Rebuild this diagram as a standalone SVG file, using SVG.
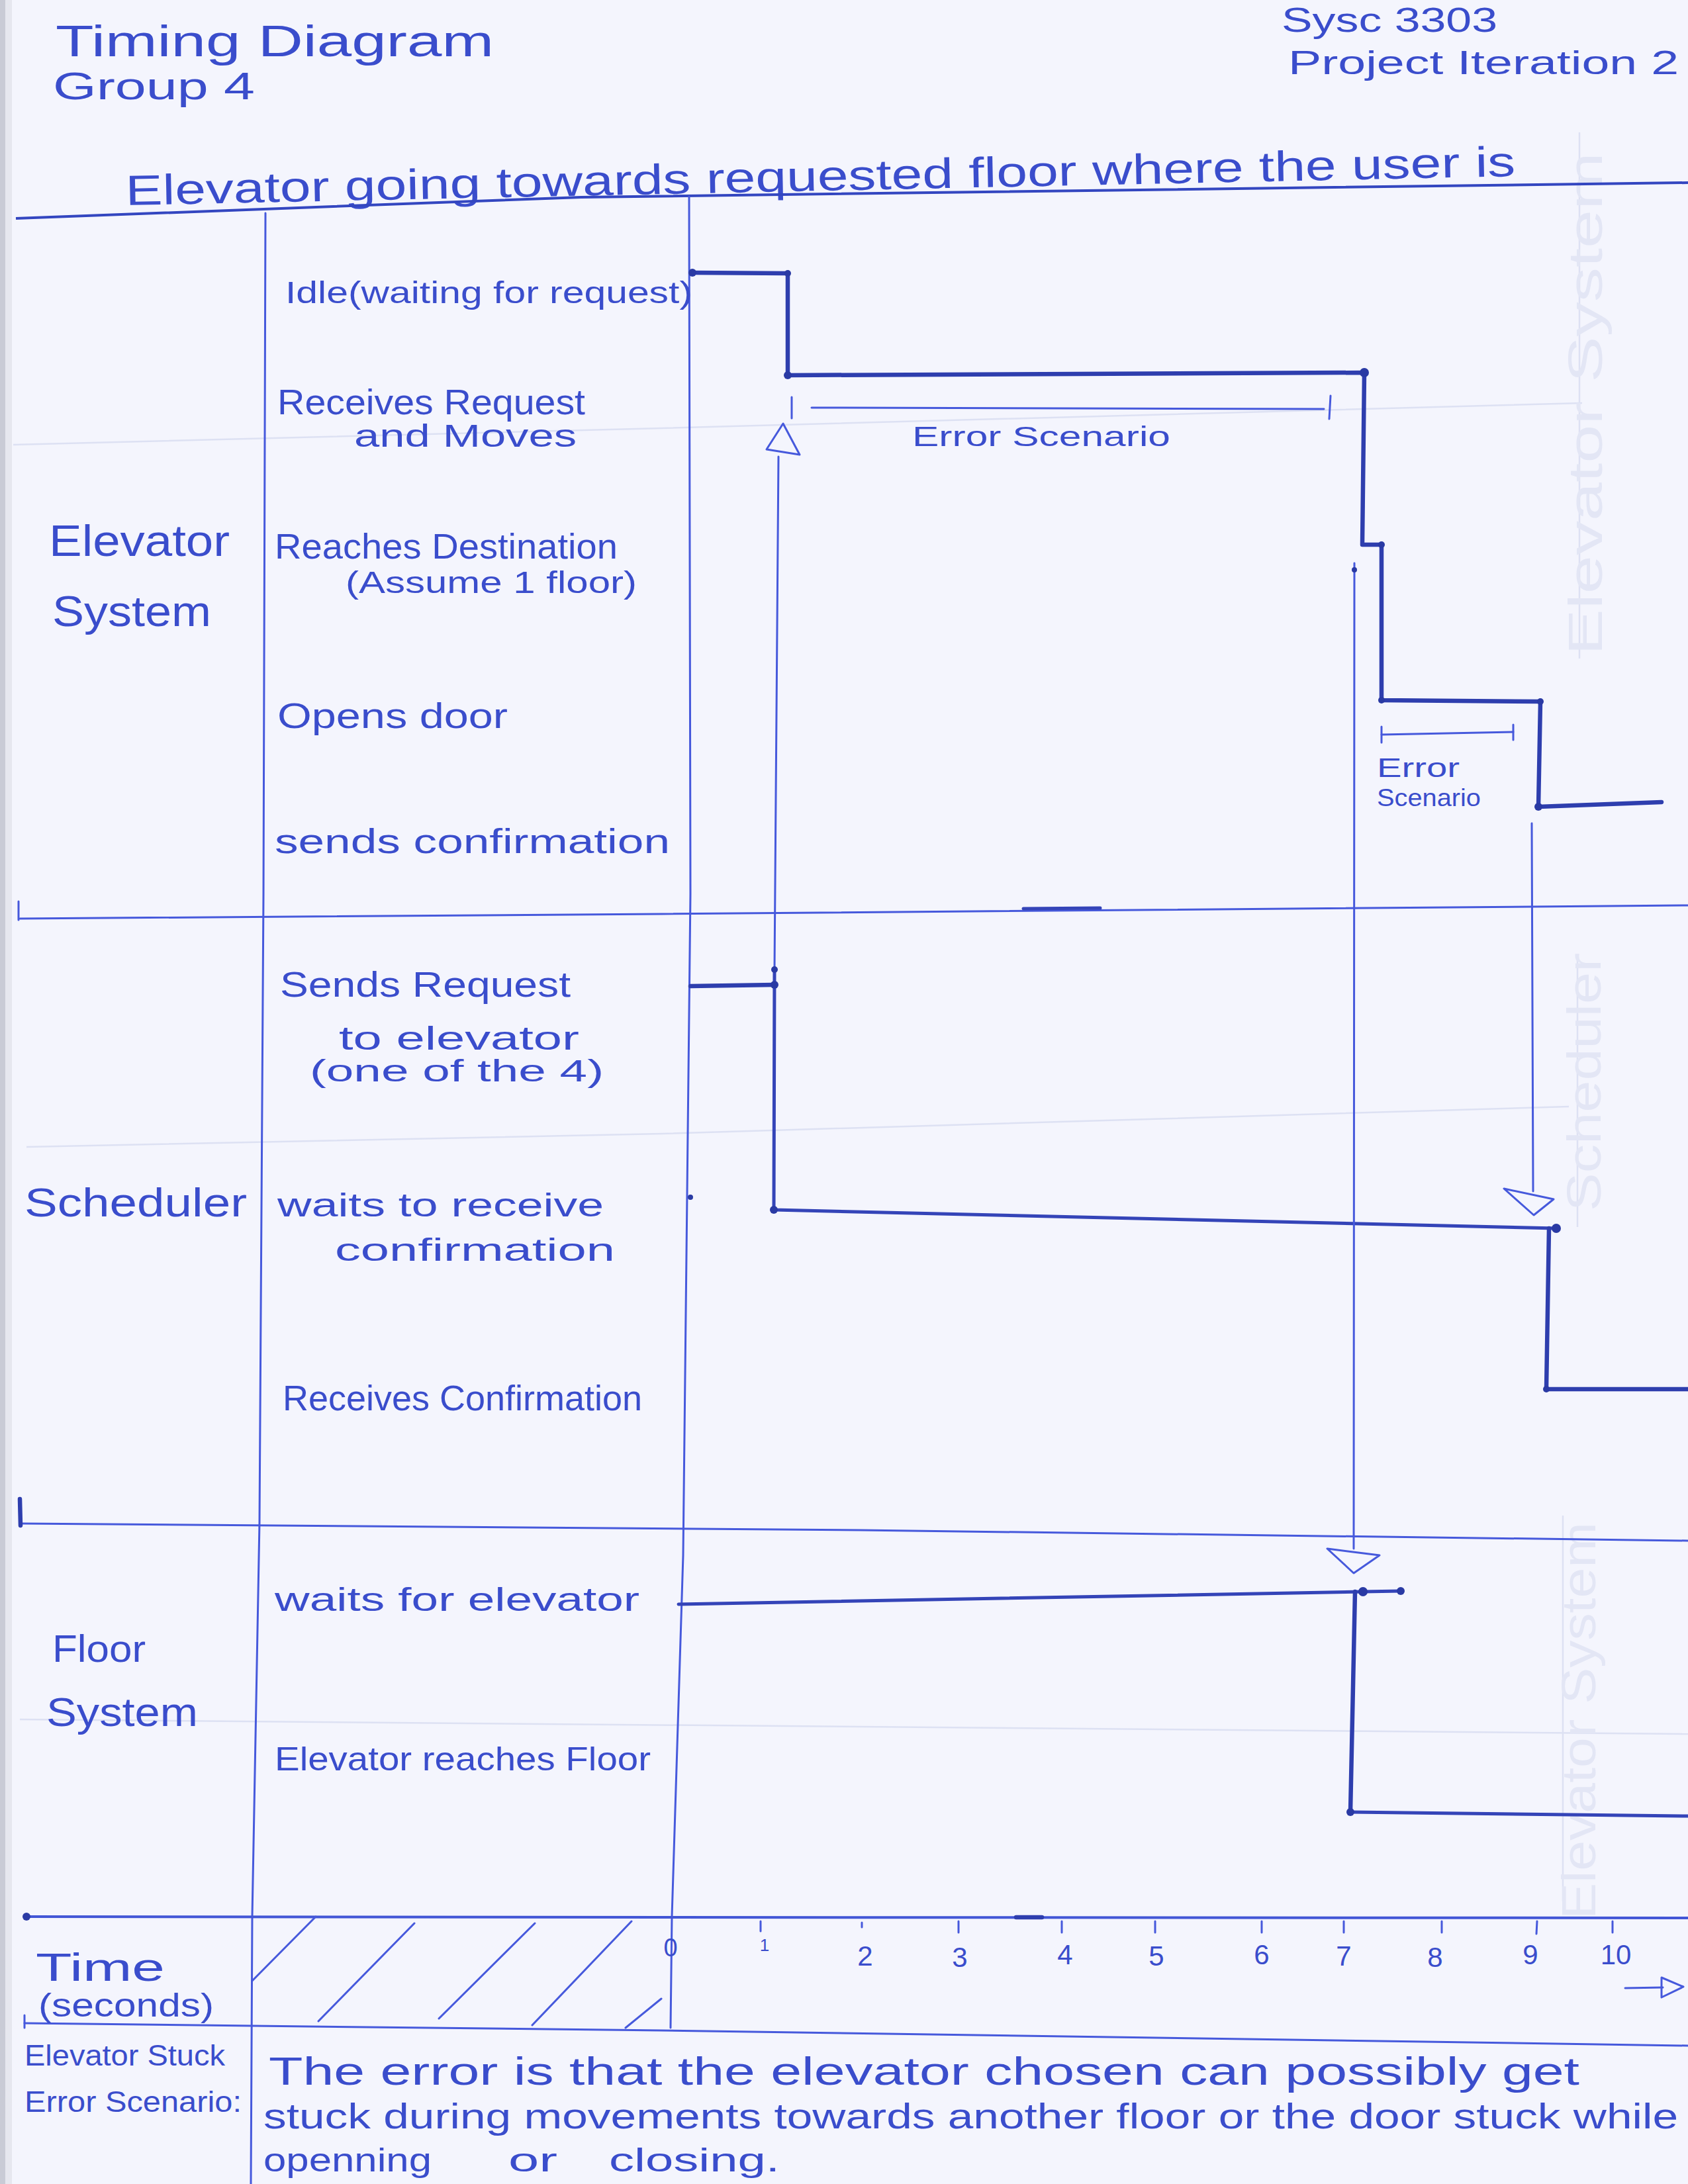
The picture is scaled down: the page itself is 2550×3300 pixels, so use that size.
<svg xmlns="http://www.w3.org/2000/svg" width="2550" height="3300" viewBox="0 0 2550 3300">
<defs>
<style>
.t{font-family:"Liberation Sans","Arial",sans-serif;fill:#3a4dcc;}
.thin{fill:none;stroke:#4659dc;stroke-width:3;stroke-linecap:round;stroke-linejoin:round;}
.rule{fill:none;stroke:#4256d6;stroke-width:4;stroke-linecap:round;stroke-linejoin:round;}
.thick{fill:none;stroke:#2e3eae;stroke-width:6.5;stroke-linecap:round;stroke-linejoin:round;}
.med{fill:none;stroke:#3444b8;stroke-width:5;stroke-linecap:round;stroke-linejoin:round;}
.head{fill:none;stroke:#3346c0;stroke-width:4;stroke-linejoin:round;}
.dot{fill:#2a3aa4;}
.faint{fill:none;stroke:#dde1f3;stroke-width:2.5;}
.ghost{font-family:"Liberation Sans",sans-serif;fill:#e3e6f5;}
</style>
</defs>
<rect x="0" y="0" width="2550" height="3300" fill="#f4f5fd"/>
<rect x="0" y="0" width="8" height="3300" fill="#c9cbd6"/>
<rect x="8" y="0" width="10" height="3300" fill="#e6e7ef"/>

<!-- faint paper guide lines and show-through -->
<g id="paper-ghosts">
<polyline class="faint" points="20,672 1000,647 2390,609"/>
<polyline class="faint" points="40,1733 1000,1713 2370,1672"/>
<polyline class="faint" points="30,2598 2550,2620"/>
<line class="faint" x1="2386" y1="200" x2="2386" y2="995"/>
<line class="faint" x1="2383" y1="1446" x2="2383" y2="1854"/>
<line class="faint" x1="2361" y1="2290" x2="2361" y2="2873"/>
<text class="ghost" transform="translate(2420,990) rotate(-90)" font-size="72" textLength="760" lengthAdjust="spacingAndGlyphs">Elevator System</text>
<text class="ghost" transform="translate(2418,1830) rotate(-90)" font-size="72" textLength="390" lengthAdjust="spacingAndGlyphs">Scheduler</text>
<text class="ghost" transform="translate(2410,2900) rotate(-90)" font-size="72" textLength="600" lengthAdjust="spacingAndGlyphs">Elevator System</text>
</g>

<!-- title block -->
<g id="title">
<text class="t" x="84" y="85" font-size="66" textLength="662" lengthAdjust="spacingAndGlyphs">Timing Diagram</text>
<text class="t" x="80" y="150" font-size="58" textLength="305" lengthAdjust="spacingAndGlyphs">Group 4</text>
<text class="t" x="1936" y="48" font-size="52" textLength="326" lengthAdjust="spacingAndGlyphs">Sysc 3303</text>
<text class="t" x="1946" y="112" font-size="50" textLength="590" lengthAdjust="spacingAndGlyphs">Project Iteration 2</text>
<text class="t" x="190" y="310" font-size="64" textLength="2100" lengthAdjust="spacingAndGlyphs" transform="rotate(-1.2 190 310)">Elevator going towards requested floor where the user is</text>
</g>

<!-- table frame -->
<g id="frame">
<polyline class="head" points="24,330 878,298 2550,276"/>
<polyline class="thin" points="401,322 398,1350 392,2300 381,2896 379,3300"/>
<polyline class="thin" points="1041,297 1043,1350 1032,2350 1015,2896 1013,3064"/>
<polyline class="thin" points="30,1388 1000,1381 2550,1368"/>
<line class="thin" x1="28" y1="1362" x2="28" y2="1390"/>
<line class="med" x1="1546" y1="1373" x2="1662" y2="1372"/>
<polyline class="thin" points="30,2302 1300,2312 2550,2328"/>
<line class="thick" x1="30" y1="2265" x2="31" y2="2305"/>
<polyline class="rule" points="40,2896 1000,2897 2550,2898"/>
<circle class="dot" cx="40" cy="2896" r="6"/>
<line class="thick" x1="1535" y1="2897" x2="1574" y2="2897"/>
<polyline class="thin" points="37,3057 1000,3068 2550,3091"/>
<line class="thin" x1="37" y1="3045" x2="37" y2="3064"/>
</g>

<!-- lane: Elevator System -->
<g id="lane-elevator">
<text class="t" x="74" y="840" font-size="66" textLength="273" lengthAdjust="spacingAndGlyphs">Elevator</text>
<text class="t" x="79" y="946" font-size="64" textLength="240" lengthAdjust="spacingAndGlyphs">System</text>
<text class="t" x="431" y="458" font-size="46" textLength="615" lengthAdjust="spacingAndGlyphs">Idle(waiting for request)</text>
<text class="t" x="419" y="626" font-size="54" textLength="465" lengthAdjust="spacingAndGlyphs">Receives Request</text>
<text class="t" x="535" y="675" font-size="48" textLength="336" lengthAdjust="spacingAndGlyphs">and Moves</text>
<text class="t" x="415" y="844" font-size="54" textLength="518" lengthAdjust="spacingAndGlyphs">Reaches Destination</text>
<text class="t" x="522" y="896" font-size="46" textLength="440" lengthAdjust="spacingAndGlyphs">(Assume 1 floor)</text>
<text class="t" x="419" y="1100" font-size="54" textLength="348" lengthAdjust="spacingAndGlyphs">Opens door</text>
<text class="t" x="415" y="1289" font-size="52" textLength="597" lengthAdjust="spacingAndGlyphs">sends confirmation</text>
</g>

<!-- lane: Scheduler -->
<g id="lane-scheduler">
<text class="t" x="37" y="1838" font-size="62" textLength="336" lengthAdjust="spacingAndGlyphs">Scheduler</text>
<text class="t" x="423" y="1506" font-size="54" textLength="439" lengthAdjust="spacingAndGlyphs">Sends Request</text>
<text class="t" x="512" y="1586" font-size="50" textLength="363" lengthAdjust="spacingAndGlyphs">to elevator</text>
<text class="t" x="468" y="1634" font-size="46" textLength="444" lengthAdjust="spacingAndGlyphs">(one of the 4)</text>
<text class="t" x="419" y="1838" font-size="50" textLength="493" lengthAdjust="spacingAndGlyphs">waits to receive</text>
<text class="t" x="506" y="1905" font-size="48" textLength="423" lengthAdjust="spacingAndGlyphs">confirmation</text>
<text class="t" x="427" y="2131" font-size="54" textLength="543" lengthAdjust="spacingAndGlyphs">Receives Confirmation</text>
</g>

<!-- lane: Floor System -->
<g id="lane-floor">
<text class="t" x="79" y="2511" font-size="58" textLength="141" lengthAdjust="spacingAndGlyphs">Floor</text>
<text class="t" x="70" y="2608" font-size="62" textLength="229" lengthAdjust="spacingAndGlyphs">System</text>
<text class="t" x="415" y="2434" font-size="50" textLength="551" lengthAdjust="spacingAndGlyphs">waits for elevator</text>
<text class="t" x="415" y="2675" font-size="50" textLength="568" lengthAdjust="spacingAndGlyphs">Elevator reaches Floor</text>
</g>

<!-- time axis -->
<g id="time-axis">
<text class="t" x="54" y="2993" font-size="60" textLength="195" lengthAdjust="spacingAndGlyphs">Time</text>
<text class="t" x="58" y="3047" font-size="50" textLength="265" lengthAdjust="spacingAndGlyphs">(seconds)</text>
<g class="thin">
<line x1="381" y1="2993" x2="477" y2="2896"/>
<line x1="481" y1="3054" x2="626" y2="2906"/>
<line x1="663" y1="3050" x2="808" y2="2906"/>
<line x1="804" y1="3060" x2="954" y2="2903"/>
<line x1="945" y1="3064" x2="999" y2="3020"/>
<line x1="1149" y1="2903" x2="1149" y2="2918"/>
<line x1="1302" y1="2905" x2="1302" y2="2912"/>
<line x1="1448" y1="2903" x2="1448" y2="2920"/>
<line x1="1604" y1="2903" x2="1604" y2="2920"/>
<line x1="1745" y1="2903" x2="1745" y2="2920"/>
<line x1="1906" y1="2903" x2="1906" y2="2920"/>
<line x1="2030" y1="2903" x2="2030" y2="2920"/>
<line x1="2178" y1="2903" x2="2178" y2="2920"/>
<line x1="2322" y1="2903" x2="2321" y2="2922"/>
<line x1="2436" y1="2903" x2="2436" y2="2920"/>
<line x1="2455" y1="3004" x2="2512" y2="3003"/>
<polygon points="2510,2988 2543,3002 2510,3018"/>
</g>
<g class="t" font-size="42" text-anchor="middle">
<text x="1013" y="2956" font-size="38">0</text>
<text x="1155" y="2948" font-size="26">1</text>
<text x="1307" y="2970">2</text>
<text x="1450" y="2972">3</text>
<text x="1609" y="2968">4</text>
<text x="1747" y="2970">5</text>
<text x="1906" y="2968">6</text>
<text x="2030" y="2970">7</text>
<text x="2168" y="2972">8</text>
<text x="2312" y="2968">9</text>
<text x="2441" y="2968">10</text>
</g>
</g>

<!-- note -->
<g id="note">
<text class="t" x="37" y="3121" font-size="44" textLength="303" lengthAdjust="spacingAndGlyphs">Elevator Stuck</text>
<text class="t" x="37" y="3191" font-size="44" textLength="328" lengthAdjust="spacingAndGlyphs">Error Scenario:</text>
<text class="t" x="406" y="3150" font-size="60" textLength="1980" lengthAdjust="spacingAndGlyphs">The error is that the elevator chosen can possibly get</text>
<text class="t" x="398" y="3216" font-size="54" textLength="2137" lengthAdjust="spacingAndGlyphs">stuck during movements towards another floor or the door stuck while</text>
<text class="t" y="3281" font-size="50"><tspan x="398" textLength="254" lengthAdjust="spacingAndGlyphs">openning</tspan> <tspan x="768" textLength="74" lengthAdjust="spacingAndGlyphs">or</tspan> <tspan x="920" textLength="258" lengthAdjust="spacingAndGlyphs">closing.</tspan></text>
</g>

<!-- connectors: state traces, signals, error brackets -->
<g id="connectors">
<polyline class="thick" points="1046,412 1190,413 1190,567 2061,563 2058,823 2087,823 2087,1058 2327,1060 2324,1219 2510,1212"/>
<polyline class="thick" points="1043,1490 1170,1488"/>
<polyline class="thin" points="1176,690 1170,1465"/>
<polyline class="med" points="1170,1465 1169,1828 2351,1856"/>
<polyline class="thick" points="2340,1856 2336,2099 2550,2099"/>
<polyline class="med" points="1025,2424 2059,2405 2116,2404"/>
<polyline class="thick" points="2047,2405 2040,2738"/>
<polyline class="med" points="2040,2738 2550,2744"/>
<polyline class="thin" points="2046,851 2045,2340"/>
<polyline class="thin" points="2314,1244 2316,1800"/>
<polygon class="thin" stroke-width="4" points="1183,640 1158,679 1208,687"/>
<polygon class="thin" stroke-width="4" points="2272,1796 2347,1812 2317,1836"/>
<polygon class="thin" stroke-width="4" points="2005,2340 2084,2350 2045,2377"/>
<line class="thin" x1="1196" y1="600" x2="1196" y2="632"/>
<line class="thin" x1="1226" y1="616" x2="2000" y2="618"/>
<line class="thin" x1="2010" y1="598" x2="2008" y2="633"/>
<line class="thin" x1="2087" y1="1098" x2="2087" y2="1122"/>
<line class="thin" x1="2087" y1="1110" x2="2286" y2="1106"/>
<line class="thin" x1="2286" y1="1095" x2="2286" y2="1118"/>
<text class="t" x="1378" y="674" font-size="42" textLength="390" lengthAdjust="spacingAndGlyphs">Error Scenario</text>
<text class="t" x="2080" y="1174" font-size="40" textLength="125" lengthAdjust="spacingAndGlyphs">Error</text>
<text class="t" x="2080" y="1218" font-size="36" textLength="157" lengthAdjust="spacingAndGlyphs">Scenario</text>
<circle class="dot" cx="1046" cy="412" r="6"/>
<circle class="dot" cx="1190" cy="413" r="5"/>
<circle class="dot" cx="1190" cy="567" r="6"/>
<circle class="dot" cx="2061" cy="563" r="7"/>
<circle class="dot" cx="2087" cy="823" r="5"/>
<circle class="dot" cx="2087" cy="1058" r="5"/>
<circle class="dot" cx="2327" cy="1060" r="5"/>
<circle class="dot" cx="2324" cy="1219" r="6"/>
<circle class="dot" cx="2046" cy="861" r="4"/>
<circle class="dot" cx="1170" cy="1465" r="5"/>
<circle class="dot" cx="1170" cy="1488" r="6"/>
<circle class="dot" cx="1169" cy="1828" r="6"/>
<circle class="dot" cx="2351" cy="1856" r="7"/>
<circle class="dot" cx="2336" cy="2099" r="5"/>
<circle class="dot" cx="2059" cy="2405" r="7"/>
<circle class="dot" cx="2116" cy="2404" r="6"/>
<circle class="dot" cx="2040" cy="2738" r="6"/>
<circle class="dot" cx="1043" cy="1809" r="4"/>
</g>
</svg>
